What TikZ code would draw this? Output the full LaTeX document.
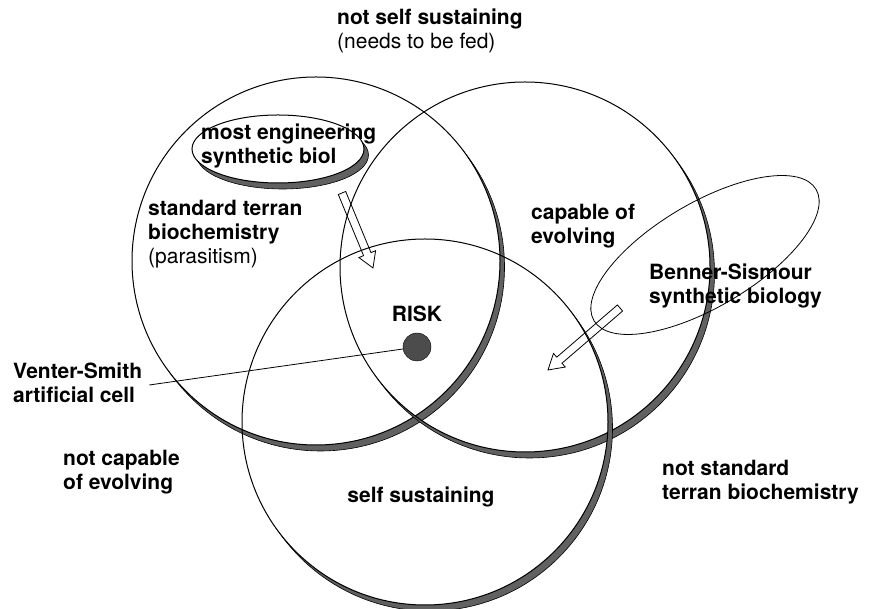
\documentclass[tikz,border=0pt]{standalone}
\usepackage{fontspec}
\setmainfont{TeX Gyre Heros}
\usetikzlibrary{calc}
\tikzset{
    venn text/.style={font=\fontsize{21}{24}\selectfont\bfseries, align=left, inner sep=0pt},
    pics/shaded ring/.style args={#1/#2}{
        code={
            \begin{scope}[even odd rule]
                \clip (-300,-300) rectangle (300,300)
                    (0,0) circle [x radius=#1, y radius=#2];
                \filldraw[fill=black!62, line width=0.6pt] (4.5,-6) circle [x radius=#1, y radius=#2];
            \end{scope}
            \draw[line width=1pt] (0,0) circle [x radius=#1, y radius=#2];
        }},
}

\begin{document}
\begin{tikzpicture}[x=1pt, y=1pt]
    \useasboundingbox (0,0) rectangle (875,609);

    \def\rL{184} \def\rR{185} \def\rB{183}

    \def\gval#1#2{\csname#1#2\endcsname}

    \def\hollowarrow#1#2{
        \coordinate (hb) at ($(#2)!15pt!(#1)$);
        \draw[line width=0.8pt, line join=miter]
            ($(#1)!4pt!90:(#2)$) -- ($(hb)!4pt!90:(#2)$) -- ($(hb)!9pt!90:(#2)$)
            -- (#2) -- ($(hb)!9pt!-90:(#2)$) -- ($(hb)!4pt!-90:(#2)$)
            -- ($(#1)!4pt!-90:(#2)$) -- cycle;
    }

    \coordinate (cL) at (316,348);
    \coordinate (cR) at (525,342);
    \coordinate (cB) at (425,187);
    \coordinate (engring) at (278,460);
    \coordinate (bsring) at (705,354);

    \foreach \I in {L,R,B}{
        \pic at (c\I) {shaded ring=\gval r\I/\gval r\I};
    }
    \pic at (engring) {shaded ring=86/34};
    \draw[line width=0.8pt, rotate around={30.6:(bsring)}] (bsring) ellipse [x radius=129, y radius=52];

    \node[venn text, anchor=west] (fed) at (337,578) {not self sustaining\\{\mdseries(needs to be fed)}};
    \node[venn text, anchor=west] (eng) at (201,463) {most engineering\\synthetic biol};
    \node[venn text, anchor=west] (terran) at (148,375) {standard terran\\biochemistry\\{\mdseries(parasitism)}};
    \node[venn text, anchor=west] (evolve) at (531,383) {capable of\\evolving};
    \node[venn text, anchor=west] (benner) at (649,323) {Benner-Sismour\\synthetic biology};
    \node[venn text] (risk) at (417,295) {RISK};
    \node[circle, draw, fill=gray!60!black, minimum size=28pt, inner sep=0pt] (cell) at (417,262) {};
    \node[venn text, anchor=west] (venter) at (13,226) {Venter-Smith\\artificial cell};
    \node[venn text, anchor=west] (notevolve) at (63,137) {not capable\\of evolving};
    \node[venn text] (sustain) at (421,112) {self sustaining};
    \node[venn text, anchor=west] (notterran) at (662,127) {not standard\\terran biochemistry};

    \draw[line width=0.8pt] ([xshift=7pt, yshift=-2pt]venter.east) -- (cell);

    \coordinate (engfrom) at (342,416);
    \coordinate (engto) at (373,341);
    \coordinate (bsfrom) at (620,301);
    \coordinate (bsto) at (548,239);
    \hollowarrow{engfrom}{engto}
    \hollowarrow{bsfrom}{bsto}

\end{tikzpicture}
\end{document}
